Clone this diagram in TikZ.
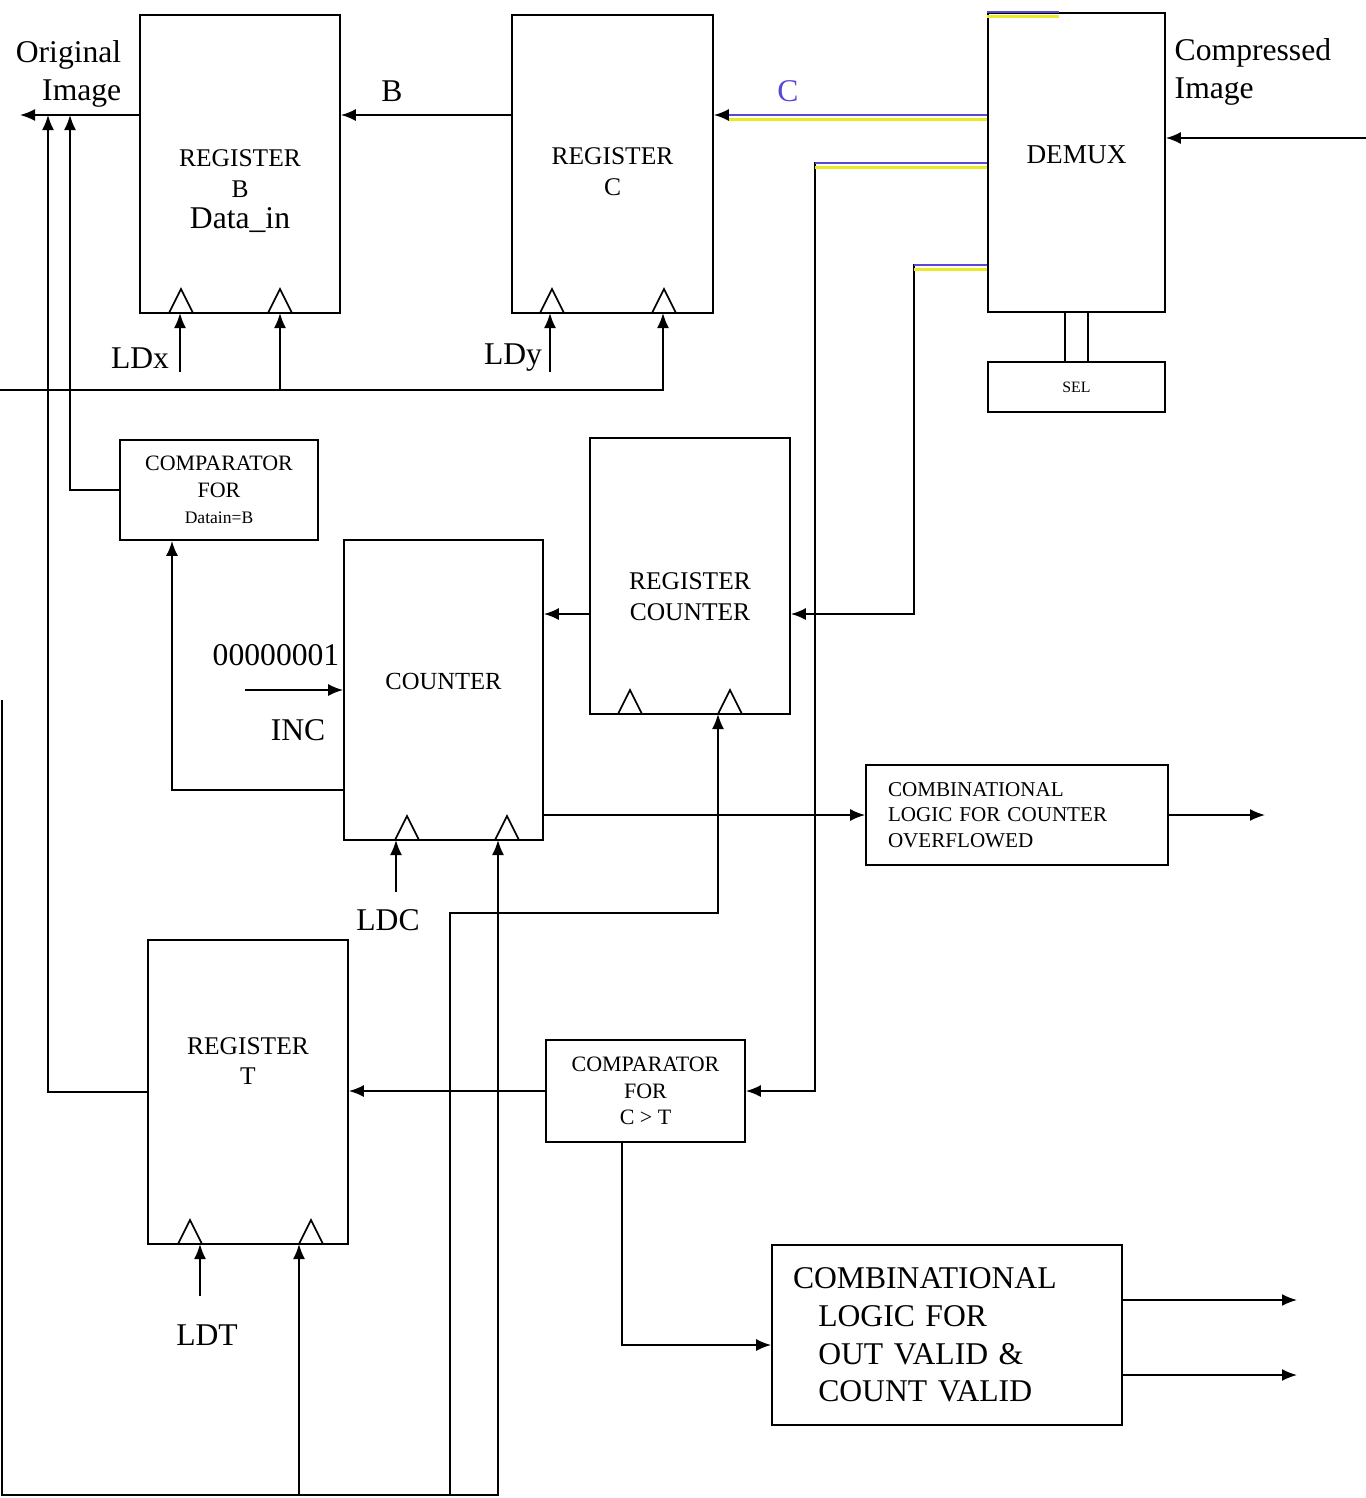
\documentclass[tikz,border=0pt]{standalone}
\usepackage{fontspec}
\setmainfont{Liberation Serif}
\usetikzlibrary{calc, arrows.meta}
\definecolor{hiblue}{RGB}{88,72,214}
\definecolor{hiyel}{RGB}{236,232,40}

\begin{document}
\begin{tikzpicture}[
  x=0.2mm, y=-0.2mm, line width=1pt,
  box/.style={draw, inner sep=0pt, align=center},
  reg/.style={box, minimum width=40mm, minimum height=60mm},
  cmp/.style={box, minimum width=39.8mm, minimum height=20mm,
              font=\fontsize{12.5}{15}\selectfont},
  regtxt/.style={align=center, font=\fontsize{14.5}{17.5}\selectfont},
  big/.style={font=\fontsize{18}{21.5}\selectfont},
  arr/.style={-{Latex[length=3mm,width=2.4mm]}},
  hl/.style={draw=hiblue, line width=1.1pt, shorten >=3mm,
             preaction={draw=hiyel, line width=1.8pt,
                        transform canvas={yshift=-0.9mm}}}
]
\useasboundingbox (0,0) rectangle (1366,1498);

%% Registers and blocks
\node[reg, minimum height=59.6mm,
      label={[regtxt, yshift=-5.4mm]center:REGISTER\\B\\{\fontsize{18}{20}\selectfont Data\_in}}]
      at (240,164) (regB) {};
\node[reg, minimum width=40.2mm, minimum height=59.6mm,
      label={[regtxt, yshift=-1.6mm]center:REGISTER\\C}] at (612.5,164) (regC) {};
\node[reg, minimum width=35.4mm, minimum height=59.8mm,
      label={[regtxt, font=\fontsize{15.5}{18}\selectfont, yshift=1.5mm]center:DEMUX}]
      at (1076.5,162.5) (demux) {};
\node[box, minimum width=35.4mm, minimum height=10mm,
      font=\fontsize{9}{10}\selectfont] at (1076.5,387) (sel) {SEL};
\node[cmp, minimum width=39.6mm] at (219,490) (cmpB)
      {COMPARATOR\\FOR\\{\fontsize{10}{12}\selectfont Datain=B}};
\node[reg, minimum height=55.2mm,
      label={[regtxt, yshift=-4.2mm]center:REGISTER\\COUNTER}] at (690,576) (regCnt) {};
\node[reg, minimum width=39.8mm,
      label={[regtxt, font=\fontsize{14}{17}\selectfont, yshift=1.8mm]center:COUNTER}]
      at (443.5,690) (counter) {};
\node[box, minimum width=60.4mm, minimum height=20mm, align=left, text width=51.6mm,
      font=\fontsize{12}{14.5}\selectfont] at (1017,815) (ovf)
      {COMBINATIONAL\\LOGIC FOR COUNTER\\OVERFLOWED};
\node[reg, minimum height=60.8mm,
      label={[regtxt, yshift=6.2mm]center:REGISTER\\T}] at (248,1092) (regT) {};
\node[cmp, minimum height=20.4mm] at (645.5,1091) (cmpT) {COMPARATOR\\FOR\\C > T};
\node[box, minimum width=70mm, minimum height=36mm, align=left, text width=61.6mm, big]
      at (947,1335) (valid)
      {COMBINATIONAL\\\hspace*{0.8em}LOGIC FOR\\\hspace*{0.8em}OUT VALID \&\\\hspace*{0.8em}COUNT VALID};

%% Free labels
\node[big, align=right, anchor=east] at (128,74) (oimgtxt) {Original\\Image};
\node[big, align=left, anchor=west] at (1168,72) (cimgtxt) {Compressed\\Image};
\node[big] at (392,91) (btxt) {B};
\node[big, text=hiblue] at (788,91) (ctxt) {C};
\node[big] at (140,358) (ldx) {LDx};
\node[big] at (513,358) (ldy) {LDy};
\node[big] at (388,920) (ldc) {LDC};
\node[big] at (207,1335) (ldt) {LDT};
\node[big] at (276,655) (one) {00000001};
\node[big] at (298,730) (inc) {INC};

%% Points
\coordinate (yB)    at (0,115);
\coordinate (oimg)  at (20,115);
\coordinate (fb1)   at (70,115);
\coordinate (fb2)   at (48,115);
\coordinate (cin)   at (1366,138);
\coordinate (yD2)   at (815,163);
\coordinate (yD3)   at (914,265);
\coordinate (y614)  at (0,614);
\coordinate (y790)  at (0,790);
\coordinate (y1345) at (0,1345);
\coordinate (xcb)   at (172,0);
\coordinate (xct)   at (622,0);
\coordinate (s1)    at (1065,0);
\coordinate (s2)    at (1088,0);
\coordinate (incin) at (245,690);
\coordinate (ovfout) at (1265,815);
\coordinate (o1)    at (1297,1300);
\coordinate (o2)    at (1297,1375);
\coordinate (busL)  at (0,390);
\coordinate (busT)  at (2,700);
\coordinate (busB)  at (2,1495);
\coordinate (jog)   at (450,913);
\coordinate (ckB1) at (180,313);  \coordinate (ckB2) at (280,313);
\coordinate (ckC1) at (550,313);  \coordinate (ckC2) at (663,313);
\coordinate (ckK1) at (396,840);  \coordinate (ckK2) at (498,840);
\coordinate (ckR2) at (718,714);
\coordinate (ckT1) at (200,1244); \coordinate (ckT2) at (299,1244);
\coordinate (ldxin) at (180,372);
\coordinate (ldyin) at (550,372);
\coordinate (ldcin) at (396,892);
\coordinate (ldtin) at (200,1296);

%% Clock marks
\foreach \cx/\cy in {181/313, 280/313, 552/313, 664/313, 630/714, 730/714,
                     407/840, 507/840, 190/1244, 311/1244}
  \draw (\cx-12,\cy) -- (\cx,\cy-24) -- (\cx+12,\cy);

%% Data path
\draw[arr] (regC.west |- yB) -- (regB.east |- yB);
\draw[arr] (regB.west |- yB) -- (oimg);
\draw[arr] (demux.west |- yB) -- (regC.east |- yB);
\draw[arr] (cin) -- (demux.east |- cin);
\draw[arr] (demux.west |- yD2) -- (yD2) |- (cmpT.east);
\draw[arr] (demux.west |- yD3) -- (yD3) |- (regCnt.east |- y614);
\draw[arr] (regCnt.west |- y614) -- (counter.east |- y614);
\draw[arr] (incin) -- (counter.west |- incin);
\draw[arr] (counter.west |- y790) -| (cmpB.south -| xcb);
\draw[arr] (cmpB.west) -| (fb1);
\draw[arr] (regT.west) -| (fb2);
\draw[arr] (counter.east |- ovf.west) -- (ovf.west);
\draw[arr] (ovf.east) -- (ovfout);
\draw[arr] (cmpT.west) -- (cmpT.west -| regT.east);
\draw[arr] (cmpT.south -| xct) |- (valid.west |- y1345);
\draw[arr] (valid.east |- o1) -- (o1);
\draw[arr] (valid.east |- o2) -- (o2);
\draw (demux.south -| s1) -- (sel.north -| s1);
\draw (demux.south -| s2) -- (sel.north -| s2);

%% Highlighted lines
\draw[hl] (demux.west |- yB) -- (regC.east |- yB);
\draw[hl, shorten >=0pt] (demux.west |- yD2) -- (yD2);
\draw[hl, shorten >=0pt] (demux.west |- yD3) -- (yD3);
\draw[hl, shorten >=0pt] (demux.north west) -- ++(72,0);

%% Load and clock lines
\draw[arr] (busL) -| (ckC2);
\draw[arr] (busL -| ckB2) -- (ckB2);
\draw[arr] (ldxin) -- (ckB1);
\draw[arr] (ldyin) -- (ckC1);
\draw[arr] (ldcin) -- (ckK1);
\draw[arr] (ldtin) -- (ckT1);
\draw[arr] (busT) -- (busB) -| (ckK2);
\draw[arr] (busB -| ckT2) -- (ckT2);
\draw[arr] (busB -| jog) -- (jog) -| (ckR2);
\end{tikzpicture}
\end{document}
